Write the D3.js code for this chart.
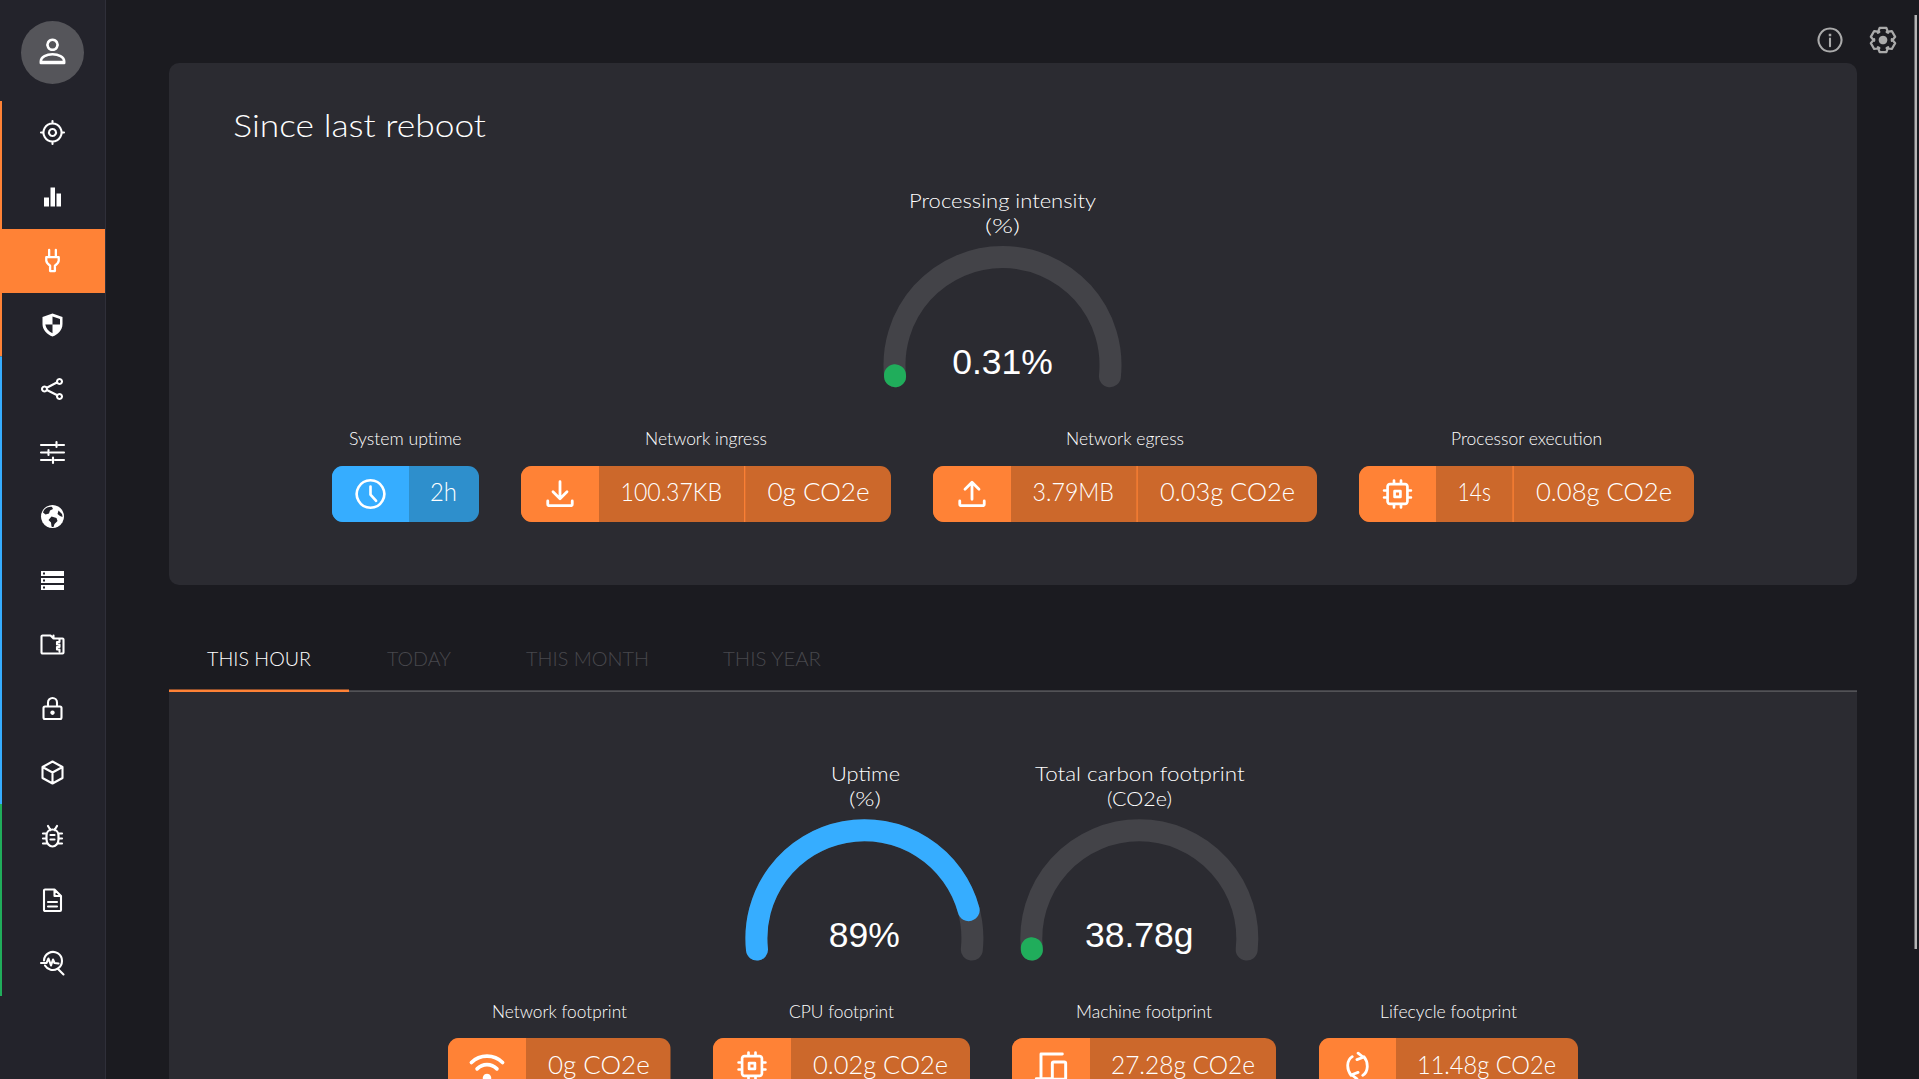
<!DOCTYPE html>
<html><head><meta charset="utf-8">
<script src="https://cdn.jsdelivr.net/npm/d3@7/dist/d3.min.js"></script>
<style>html,body{margin:0;padding:0;background:#1b1b20;overflow:hidden}svg{display:block}text{font-family:Lato,"Open Sans",sans-serif}</style>
</head><body><svg id="c" width="1919" height="1079"></svg>
<script>
// ---------- data ----------
const navIcons = ["target","bars","plug","shield","share","sliders","globe","servers","zip","lock","cube","bug","doc","pulse"];
const tabLabels = ["THIS HOUR","TODAY","THIS MONTH","THIS YEAR"];
const pageTitle = "Since last reboot";
const gaugeTitles = [["Processing intensity","(%)"],["Uptime","(%)"],["Total carbon footprint","(CO2e)"]];
const gaugeValues = [0.31,89,38.78];
const gaugeLabels = ["0.31%","89%","38.78g"];
const gaugeMax = [100,100,10000];
const cardTitles = ["System uptime","Network ingress","Network egress","Processor execution","Network footprint","CPU footprint","Machine footprint","Lifecycle footprint"];
const cardIcons = ["clock","download","upload","cpu","wifi","cpu","devices","recycle"];
const cardMetric = ["2h","100.37KB","3.79MB","14s",null,null,null,null];
const cardCarbon = [null,"0g CO2e","0.03g CO2e","0.08g CO2e","0g CO2e","0.02g CO2e","27.28g CO2e","11.48g CO2e"];

// ---------- layout ----------
const COL = {bg:"#1b1b20",side:"#23232b",sideLine:"#2f2f39",panel:"#2b2b31",track:"#434348",blue:"#36adff",blueD:"#2e8fcc",orange:"#ff8236",orangeD:"#cc682b",green:"#20ad5b",dim:"#48484d"};
const stripBands = [[101,356.4,COL.orange],[356.4,804,COL.blue],[804,996,COL.green]];
const gaugeLayout = [{cx:1002.5,cy:365,tx:[909,1096],t2:[985,1020],ty:207.7,vy:374},
 {cx:864.4,cy:938.3,tx:[831,900],t2:[849,881],ty:780.7,vy:947},
 {cx:1139.3,cy:938.3,tx:[1035,1244.6],t2:[1107,1172],ty:780.7,vy:947}];
const cardLayout = [
 {y:466,x0:332,x1:479,ic:409,lab:[349,461.6],m:[430,457],c:null},
 {y:466,x0:521,x1:891,ic:599,div:744.6,lab:[645,767],m:[620.5,722],c:[767.4,869.6]},
 {y:466,x0:933,x1:1317,ic:1011,div:1137,lab:[1066,1184],m:[1032.6,1114],c:[1160,1295]},
 {y:466,x0:1359,x1:1694,ic:1436,div:1513,lab:[1451,1602],m:[1457.6,1491],c:[1536,1672]},
 {y:1038,x0:448,x1:670.7,ic:526,lab:[492,627],c:[548,649.7]},
 {y:1038,x0:713,x1:970,ic:791,lab:[789,894],c:[813,948]},
 {y:1038,x0:1012,x1:1276,ic:1090,lab:[1076,1212],c:[1111,1255]},
 {y:1038,x0:1319,x1:1578,ic:1396,lab:[1380,1517],c:[1417,1556]}];
const tabX = [[207,311],[387,451],[526,649],[723,821]];

// gear outline built from a radial line so the teeth stay even
const gearPts=d3.range(6).flatMap(k=>{const a=k*Math.PI/3,t=.27,v=.62;return [[a-t,11.6],[a+t,11.6],[a+v,8.2],[a+Math.PI/3-v,8.2]];});
const gearPath=d3.lineRadial().curve(d3.curveLinearClosed)(gearPts);

// icons in a 24-unit box: s = stroked path, f = filled path, d = dark filled path
const ICON = {
 person:{s:"M12 1.500a4.300 4.300 0 1 0 .01 0zM2 21.500v-1.500c0-4 5-6 10-6s10 2 10 6v1.500z",f:"M2 19.500h20v2.500H2z",w:2.2},
 target:{s:"M12 3a9 9 0 1 0 .01 0zM12 8.500a3.500 3.500 0 1 0 .01 0zM12 0.500v2.500M12 21v2.500M0.500 12H3M21 12h2.500",w:2.1},
 bars:{f:"M3.500 13h5v9h-5zM10 3h4.500v19H10zM16 9h4.500v13H16z"},
 plug:{s:"M8.500 1v7.500M15.500 1v7.500M5.500 8.500h13v3.500c0 2.500-2 4-4 5.500v5.500h-5v-5.500c-2-1.500-4-3-4-5.500z",w:2.4},
 shield:{f:"M12 1l10 3.500v7c0 6-4.500 10.500-10 12.500C6.500 22 2 17.500 2 11.500v-7z",d:"M12 4l7.500 2.500V12H12zM12 12H4.800c.6 4 3.500 7 7.200 8.700z"},
 share:{s:"M19 2.500a2.500 2.500 0 1 0 .01 0zM19 17.500a2.500 2.500 0 1 0 .01 0zM4 10a2.500 2.500 0 1 0 .01 0zM6.300 11.200 16.800 5.800M6.300 13.500 16.800 18.800",w:2.1},
 sliders:{s:"M0.500 4.500h14M18 4.500h5.500M0.500 12h6M10 12h13.500M0.500 19.500h10M14.500 19.500h9M16 1.500v5M8 9.500v5M12.500 17v5.500",w:2.1},
 globe:{f:"M12 0.500a11.500 11.500 0 1 0 .01 0z",d:"M4.500 4.500c2 -1.500 5-2.500 7-2l1 2-3 1.500-1 3-3.500 1-2.500-2c.5-1.500 1-2.500 2-3.500zM11 12l5 1.500 1 3-3 3-1 3c-1 0-1.500 0-2-.5l-.500-4-2.500-2.500zM18 6l3.500 3.500c.3 1 .5 2 .5 3l-2.500-1-2.500-2z"},
 servers:{f:"M0.500 2.500h23v5h-23zM0.500 9.500h23v5h-23zM0.500 16.500h23v5h-23z",d:"M2.500 4h2v2h-2zM2.500 11h2v2h-2zM2.500 18h2v2h-2z"},
 zip:{s:"M1 4c0-.5.5-1 1-1h8l3 3h9c.5 0 1 .5 1 1v13c0 .5-.5 1-1 1H2c-.5 0-1-.5-1-1zM13 3v3M19 7v2.500h-2.500V12H19v2.500h-2.500V17H19v2",w:2.1},
 lock:{s:"M4.500 10h15c1 0 1.500.5 1.500 1.500v9.500c0 1-.5 1.500-1.500 1.500h-15c-1 0-1.500-.5-1.500-1.500v-9.500c0-1 .5-1.500 1.500-1.500zM7.500 10V6a4.500 4.500 0 0 1 9 0v4",f:"M12 14a2.200 2.200 0 1 0 .01 0z",w:2.1},
 cube:{s:"M12 1 22 6.500v11L12 23 2 17.500v-11zM2 6.500 12 12l10-5.500M12 12v11",w:2.1},
 bug:{s:"M12 5c4 0 6 3 6 6v4c0 4-3 7-6 7s-6-3-6-7v-4c0-3 2-6 6-6zM7.500 1.500 10 5.500M16.500 1.500 14 5.500M2.500 9H6M2.500 14H6M2.500 19H6.500M18 9h3.500M18 14h3.500M17.500 19h4M10 10.500h4M10 15h4",w:2.2},
 doc:{s:"M3.500 2c0-.5.5-1 1-1H14l6.500 6.500v14c0 .5-.5 1-1 1h-15c-.5 0-1-.5-1-1zM14 1v6.500h6.500M7.500 13.500h9M7.500 18h9",w:2.1},
 pulse:{s:"M3.500 10A9 9 0 1 1 17 18.200M4.500 15A9 9 0 0 0 17 18.200M17 18 23 24M0.500 12.500H6L8 8l2.500 7 2-6 1.500 3.500 4 .5",w:2.1},
 clock:{s:"M12 1a11 11 0 1 0 .01 0zM12 6v6.500l4.500 5",w:2.1},
 download:{s:"M12 1.500V15M6 10l6 6 6-6M1.500 18v2.500c0 1 .5 1.500 1.500 1.500h18c1 0 1.500-.5 1.500-1.500V18",w:2.4},
 upload:{s:"M12 16.500V2.500M6 8l6-6 6 6M1.500 18v2.500c0 1 .5 1.500 1.500 1.500h18c1 0 1.500-.5 1.500-1.500V18",w:2.4},
 cpu:{s:"M5.500 3.500h13c1 0 2 1 2 2v13c0 1-1 2-2 2h-13c-1 0-2-1-2-2v-13c0-1 1-2 2-2zM9 .500v3M15 .500v3M9 20.500v3M15 20.500v3M.500 9h3M.500 15h3M20.500 9h3M20.500 15h3M9.500 9.500h5v5h-5z",w:2.3},
 wifi:{s:"M1 9.500C7 3.500 17 3.500 23 9.500M5 14c4-4 10-4 14 0",f:"M12 17.500a3 3 0 1 0 .01 0z",w:2.6},
 devices:{s:"M4.500 20V3h16M1 21.500h11M14 9h8c.5 0 1 .5 1 1v11c0 .5-.5 1-1 1h-8c-.5 0-1-.5-1-1V10c0-.5.5-1 1-1z",w:2.2},
 recycle:{s:"M7.500 4C2.500 7 2.500 15 6.500 20M16.500 20C21.500 17 21.500 9 17.500 4M12.500 1l4.500 3.500-5.500 2M11.500 23 7 19.500l5.500-2",w:2.4},
 info:{s:"M12 1a11 11 0 1 0 .01 0zM12 10.500v7.500",f:"M10.800 6h2.400v2.400h-2.400z",w:2},
 gear:{s:"M0 0",f:"M12 8a4 4 0 1 0 .01 0z"}
};

// ---------- drawing ----------
const svg = d3.select("#c");
const rect=(x,y,w,h,f,r)=>svg.append("rect").attr("x",x).attr("y",y).attr("width",w).attr("height",h).attr("fill",f).attr("rx",r||0);
function fit(str,x0,x1,base,size,color,weight){
 return svg.append("text").attr("x",x0).attr("y",base).attr("font-size",size).attr("fill",color).attr("font-weight",weight||300)
  .attr("textLength",x1-x0).attr("lengthAdjust","spacingAndGlyphs").text(str);
}
function icon(name,cx,cy,size,color,back){
 const ic=ICON[name],k=size/24;
 const g=svg.append("g").attr("transform",`translate(${cx-size/2},${cy-size/2}) scale(${k})`);
 if(ic.f) g.append("path").attr("d",ic.f).attr("fill",color);
 if(ic.d) g.append("path").attr("d",ic.d).attr("fill",back);
 if(ic.s) g.append("path").attr("d",ic.s).attr("fill","none").attr("stroke",color).attr("stroke-width",ic.w||1.9).attr("stroke-linecap","round").attr("stroke-linejoin","round");
 if(name=="gear") g.append("path").attr("transform","translate(12,12)").attr("d",gearPath).attr("fill","none").attr("stroke",color).attr("stroke-width",2.1).attr("stroke-linejoin","round");
}

// sidebar
rect(0,0,105,1079,COL.side);
rect(105,0,1,1079,COL.sideLine);
svg.append("circle").attr("cx",52.5).attr("cy",52.5).attr("r",31.5).attr("fill","#55555a");
icon("person",52.5,52,28,"#fff");
const rowY=d3.scaleLinear().domain([0,1]).range([133,197]);
const activeNav=2;
rect(0,rowY(activeNav)-32,105,64,COL.orange);
stripBands.forEach(b=>rect(0,b[0],2,b[1]-b[0],b[2]));
navIcons.forEach((n,i)=>icon(n,52.5,rowY(i)-(i==13?2:0)-.5,n=="plug"?23:24,"#fff",COL.side));

// top icons + scrollbar
icon("info",1830,40,25,"#aaaaaa");
icon("gear",1883,40,26,"#aaaaaa");
rect(1914.5,15,2.5,934,"#b5b5b5");

// panels
rect(169,63,1688,522,COL.panel,10);
rect(169,692,1688,400,COL.panel);
rect(349,690.5,1508,1.2,"#6a6a6e");
rect(169,689.5,180,2.5,COL.orange);

fit(pageTitle,233.3,486,137,31.5,"#fff",300);
tabLabels.forEach((t,i)=>fit(t,tabX[i][0],tabX[i][1],666,20.5,i==0?"#fff":COL.dim,300));

// gauges
const arcR=108, sw=22, endDeg=96;
function arcPath(a0,a1){const p=d3.path();p.arc(0,0,arcR,a0-Math.PI/2,a1-Math.PI/2);return p.toString();}
gaugeValues.forEach((v,i)=>{
 const L=gaugeLayout[i];
 const ang=d3.scaleLinear().domain([0,gaugeMax[i]]).range([-endDeg,endDeg].map(d=>d*Math.PI/180));
 const g=svg.append("g").attr("transform",`translate(${L.cx},${L.cy})`);
 g.append("path").attr("d",arcPath(ang(0),ang(gaugeMax[i]))).attr("fill","none").attr("stroke",COL.track).attr("stroke-width",sw).attr("stroke-linecap","round");
 const col=(i==1)?COL.blue:COL.green;
 g.append("path").attr("d",arcPath(ang(0),ang(v))).attr("fill","none").attr("stroke",col).attr("stroke-width",sw).attr("stroke-linecap","round");
 fit(gaugeTitles[i][0],L.tx[0],L.tx[1],L.ty,20.5,"#fff",300);
 fit(gaugeTitles[i][1],L.t2[0],L.t2[1],L.ty+25.5,20.5,"#fff",300);
 svg.append("text").attr("x",L.cx).attr("y",L.vy).attr("text-anchor","middle").attr("font-size",35.5).attr("fill","#fff").style("font-family","'Liberation Sans',Arial,sans-serif").text(gaugeLabels[i]);
});

// cards
const defs=svg.append("defs");
cardTitles.forEach((t,i)=>{
 const L=cardLayout[i], h=56, blue=i==0, low=i>=4?1:0;
 defs.append("clipPath").attr("id","cc"+i).append("rect").attr("x",L.x0).attr("y",L.y).attr("width",L.x1-L.x0).attr("height",h).attr("rx",11);
 const g=svg.append("g").attr("clip-path",`url(#cc${i})`);
 g.append("rect").attr("x",L.x0).attr("y",L.y).attr("width",L.x1-L.x0).attr("height",h).attr("fill",blue?COL.blueD:COL.orangeD);
 g.append("rect").attr("x",L.x0).attr("y",L.y).attr("width",L.ic-L.x0).attr("height",h).attr("fill",blue?COL.blue:COL.orange);
 if(L.div) g.append("rect").attr("x",L.div-.5).attr("y",L.y).attr("width",1.2).attr("height",h).attr("fill",COL.orange);
 fit(t,L.lab[0],L.lab[1],L.y-21+low,17,"#fff",300);
 const name=cardIcons[i];
 icon(name,(L.x0+L.ic)/2,L.y+28,name=="clock"?30:name=="wifi"?34:name=="devices"?32:28,"#fff");
 if(cardMetric[i]) fit(cardMetric[i],L.m[0],L.m[1],L.y+35+low,25.5,"#fff",300);
 if(cardCarbon[i]) fit(cardCarbon[i],L.c[0],L.c[1],L.y+35+low,25.5,"#fff",300);
});
</script></body></html>
